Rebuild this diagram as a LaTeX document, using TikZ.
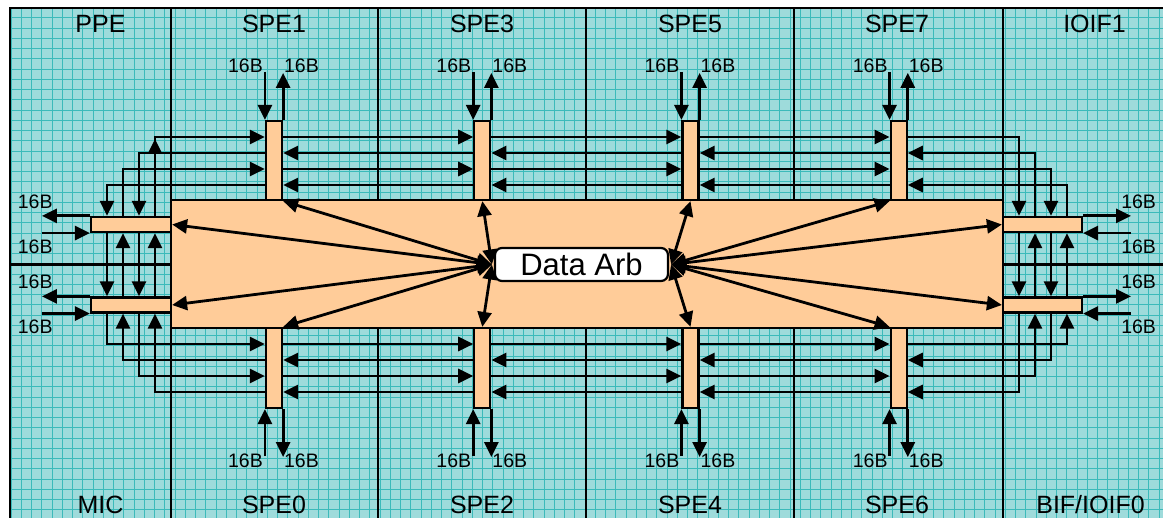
\documentclass[tikz,border=0pt]{standalone}
\usepackage{fontspec}
\setmainfont{Liberation Sans}
\usetikzlibrary{arrows.meta,calc}
\definecolor{bgc}{RGB}{158,219,219}
\definecolor{gridc}{RGB}{60,186,186}
\definecolor{orng}{RGB}{255,204,153}
\begin{document}
\begin{tikzpicture}[x=1pt,y=-1pt,
 arr/.style={line width=2.8pt, -{Triangle[length=15pt,width=14pt]}},
 darr/.style={line width=2.8pt, {Triangle[length=15pt,width=14pt]}-{Triangle[length=15pt,width=14pt]}},
 frame/.style={line width=2.2pt},
 gline/.style={gridc, line width=0.9pt},
 vbar/.style={draw, line width=2.2pt, fill=orng, minimum width=16pt, minimum height=79pt, inner sep=0pt},
 hbar/.style={draw, line width=2.2pt, fill=orng, minimum width=80pt, minimum height=15pt, inner sep=0pt},
 title/.style={font=\fontsize{25}{25}\selectfont, anchor=base, inner sep=0pt},
 bl/.style={font=\fontsize{19.5}{19.5}\selectfont, anchor=base, inner sep=0pt},
]
\useasboundingbox (0,0) rectangle (1163,518);
\begin{scope}
\clip (0,0) rectangle (1163,518);
\fill[bgc] (10,8) rectangle (1175,530);
\foreach \i in {0,...,112} { \draw[gline] ({11+10.25*\i},8) -- ({11+10.25*\i},530); }
\foreach \i in {1,...,51} { \draw[gline] (10,{7.5+10.25*\i}) -- (1175,{7.5+10.25*\i}); }
\draw[frame] (10,530) -- (10,8) -- (1175,8);
\foreach \x in {171,378,586,794,1003} \draw[frame] (\x,8) -- (\x,530);
\draw[frame] (10,264.5) -- (171,264.5);
\draw[frame] (1003,264.5) -- (1175,264.5);
\end{scope}

% titles
\node[title] (tppe) at (100.5,33) {PPE};
\node[title] (tspe1) at (274,33) {SPE1};
\node[title] (tspe3) at (482,33) {SPE3};
\node[title] (tspe5) at (690,33) {SPE5};
\node[title] (tspe7) at (897,33) {SPE7};
\node[title] (tioif1) at (1094.5,33) {IOIF1};
\node[title] (tmic) at (100.5,514) {MIC};
\node[title] (tspe0) at (274,514) {SPE0};
\node[title] (tspe2) at (482,514) {SPE2};
\node[title] (tspe4) at (690,514) {SPE4};
\node[title] (tspe6) at (897,514) {SPE6};
\node[title] (tbif) at (1090.5,514) {BIF/IOIF0};

% core
\node[draw, line width=2.2pt, fill=orng, minimum width=832pt, minimum height=128pt, inner sep=0pt] (core) at (587,264) {};

% bars
\node[vbar] (t1) at (274,160.5) {};
\node[vbar] (t3) at (482.3,160.5) {};
\node[vbar] (t5) at (690.5,160.5) {};
\node[vbar] (t7) at (898.7,160.5) {};
\node[vbar, minimum height=80pt] (b0) at (274,368) {};
\node[vbar, minimum height=80pt] (b2) at (482.3,368) {};
\node[vbar, minimum height=80pt] (b4) at (690.5,368) {};
\node[vbar, minimum height=80pt] (b6) at (898.7,368) {};
\node[hbar] (lt) at (131,224.5) {};
\node[hbar] (lb) at (131,305) {};
\node[hbar, minimum width=79pt] (rt) at (1042.5,224.5) {};
\node[hbar, minimum width=79pt] (rb) at (1042.5,305) {};

% level coordinates
\coordinate (ya) at (0,137); \coordinate (yb) at (0,153);
\coordinate (yc) at (0,169); \coordinate (yd) at (0,185);
\coordinate (ye) at (0,344); \coordinate (yf) at (0,360);
\coordinate (yg) at (0,376); \coordinate (yh) at (0,392);
\coordinate (xa) at (107,0); \coordinate (xb) at (123,0);
\coordinate (xc) at (139,0); \coordinate (xd) at (155,0);
\coordinate (xe) at (1019,0); \coordinate (xf) at (1035,0);
\coordinate (xg) at (1051,0); \coordinate (xh) at (1067,0);

% top rings
\draw[arr] (lt.north -| xd) -- (xd |- ya) -- (t1.west |- ya);
\draw[arr] (xd |- yb) -- ($(xd |- ya)+(0,2)$);
\draw[arr] (lt.north -| xb) -- (xb |- yc) -- (t1.west |- yc);
\foreach \p/\q in {t1/t3,t3/t5,t5/t7} {
  \draw[arr] (\p.east |- ya) -- (\q.west |- ya);
  \draw[arr] (\p.east |- yc) -- (\q.west |- yc);
  \draw[arr] (\q.west |- yb) -- (\p.east |- yb);
  \draw[arr] (\q.west |- yd) -- (\p.east |- yd);
}
\draw[arr] (t7.east |- ya) -- (xe |- ya) -- (rt.north -| xe);
\draw[arr] (t7.east |- yc) -- (xg |- yc) -- (rt.north -| xg);
\draw[arr] (rt.north -| xf) -- (xf |- yb) -- (t7.east |- yb);
\draw[arr] (rt.north -| xh) -- (xh |- yd) -- (t7.east |- yd);
\draw[arr] (t1.west |- yb) -- (xc |- yb) -- (lt.north -| xc);
\draw[arr] (t1.west |- yd) -- (xa |- yd) -- (lt.north -| xa);

% between ramps
\draw[arr] (lt.south -| xa) -- (lb.north -| xa);
\draw[arr] (lt.south -| xc) -- (lb.north -| xc);
\draw[arr] (lb.north -| xb) -- (lt.south -| xb);
\draw[arr] (lb.north -| xd) -- (lt.south -| xd);
\draw[arr] (rt.south -| xe) -- (rb.north -| xe);
\draw[arr] (rt.south -| xg) -- (rb.north -| xg);
\draw[arr] (rb.north -| xf) -- (rt.south -| xf);
\draw[arr] (rb.north -| xh) -- (rt.south -| xh);

% bottom rings
\draw[arr] (lb.south -| xa) -- (xa |- ye) -- (b0.west |- ye);
\draw[arr] (lb.south -| xc) -- (xc |- yg) -- (b0.west |- yg);
\foreach \p/\q in {b0/b2,b2/b4,b4/b6} {
  \draw[arr] (\p.east |- ye) -- (\q.west |- ye);
  \draw[arr] (\p.east |- yg) -- (\q.west |- yg);
  \draw[arr] (\q.west |- yf) -- (\p.east |- yf);
  \draw[arr] (\q.west |- yh) -- (\p.east |- yh);
}
\draw[arr] (b6.east |- ye) -- (xh |- ye) -- (rb.south -| xh);
\draw[arr] (b6.east |- yg) -- (xf |- yg) -- (rb.south -| xf);
\draw[arr] (rb.south -| xg) -- (xg |- yf) -- (b6.east |- yf);
\draw[arr] (rb.south -| xe) -- (xe |- yh) -- (b6.east |- yh);
\draw[arr] (b0.west |- yf) -- (xb |- yf) -- (lb.south -| xb);
\draw[arr] (b0.west |- yh) -- (xd |- yh) -- (lb.south -| xd);

% SPE in/out
\foreach \t in {t1,t3,t5,t7} {
  \draw[arr] ($(\t.north west)+(0,-48)$) -- (\t.north west);
  \draw[arr] (\t.north east) -- ++(0,-47);
  \node[bl] (\t la) at ($(\t.north)+(-28.5,-47.5)$) {16B};
  \node[bl] (\t lb) at ($(\t.north)+(27.5,-47.5)$) {16B};
}
\foreach \t in {b0,b2,b4,b6} {
  \draw[arr] ($(\t.south west)+(0,47)$) -- (\t.south west);
  \draw[arr] (\t.south east) -- ++(0,48);
  \node[bl] (\t la) at ($(\t.south)+(-28.5,58.7)$) {16B};
  \node[bl] (\t lb) at ($(\t.south)+(27.5,58.7)$) {16B};
}
% ramp in/out
\foreach \r in {lt,lb} {
  \draw[arr] (\r.north west) -- ++(-48,0);
  \draw[arr] ($(\r.south west)+(-48,0)$) -- (\r.south west);
  \node[bl] (\r la) at ($(\r.west)+(-54.7,-16.3)$) {16B};
  \node[bl] (\r lb) at ($(\r.west)+(-54.7,29)$) {16B};
}
\foreach \r in {rt,rb} {
  \draw[arr] (\r.north east) -- ++(48,0);
  \draw[arr] ($(\r.south east)+(48,0)$) -- (\r.south east);
  \node[bl] (\r la) at ($(\r.east)+(55.5,-16.3)$) {16B};
  \node[bl] (\r lb) at ($(\r.east)+(55.5,29)$) {16B};
}

% data arb
\node[draw, line width=2.2pt, fill=white, rounded corners=7pt, minimum width=173pt, minimum height=33pt, inner sep=0pt, font=\fontsize{31}{31}\selectfont] (arb) at (581.5,264.5) {Data Arb};
\coordinate (al) at ($(arb.west)+(-2,0)$);
\coordinate (ar) at ($(arb.east)+(2,0)$);
\foreach \d in {t1.south east, lt.east, lb.east, b0.north east, t3.south, b2.north}
  \draw[darr] (al) -- (\d);
\foreach \d in {t7.south west, rt.west, rb.west, b6.north west, t5.south, b4.north}
  \draw[darr] (ar) -- (\d);
\end{tikzpicture}
\end{document}
